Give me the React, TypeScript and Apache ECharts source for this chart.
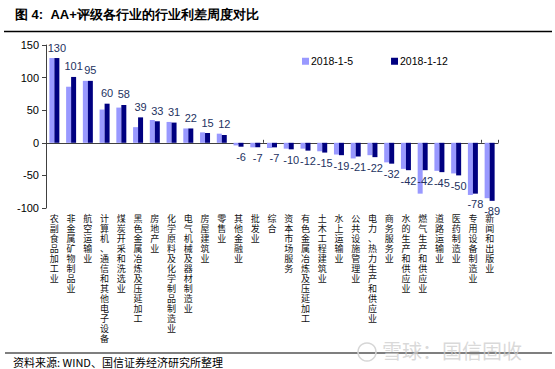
import React, { useEffect, useRef } from "react";
import * as echarts from "echarts";

const categories = [
  "农副食品加工业",
  "非金属矿物制品业",
  "航空运输业",
  "计算机、通信和其他电子设备",
  "煤炭开采和洗选业",
  "黑色金属冶炼及压延加工",
  "房地产业",
  "化学原料及化学制品制造业",
  "电气机械及器材制造业",
  "房屋建筑业",
  "零售业",
  "其他金融业",
  "批发业",
  "综合",
  "资本市场服务",
  "有色金属冶炼及压延加工",
  "土木工程建筑业",
  "水上运输业",
  "公共设施管理业",
  "电力、热力生产和供应业",
  "商务服务业",
  "水的生产和供应业",
  "燃气生产和供应业",
  "道路运输业",
  "医药制造业",
  "专用设备制造业",
  "新闻和出版业",
];

const seriesJan5 = [130, 86, 95, 51, 54, 24, 35, 32, 22, 16, 14, -4, -7, -8, -9, -9, -13, -18, -24, -19, -30, -40, -78, -43, -47, -80, -85];
const seriesJan12 = [130, 101, 95, 60, 58, 39, 33, 31, 22, 15, 12, -6, -7, -7, -10, -12, -15, -19, -21, -22, -32, -42, -42, -45, -50, -78, -89];

const legendNames = ["2018-1-5", "2018-1-12"];
const yTicks = { min: -100, max: 150, interval: 50 };

const titleText = "图 4:  AA+评级各行业的行业利差周度对比";
const sourceText = "资料来源: WIND、国信证券经济研究所整理";
const watermarkText = "雪球：国信固收";

const LIGHT = "#9999ff";
const DARK = "#000080";
const AXIS = "#404040";
const FONT = "'Liberation Sans', Arial, 'Noto Sans CJK SC', sans-serif";
const CJK = "'Noto Sans CJK SC', sans-serif";

export default function App() {
  const ref = useRef<HTMLDivElement>(null);
  useEffect(() => {
    if (!ref.current) return;
    const chart = echarts.init(ref.current, undefined, { renderer: "svg" });
    chart.setOption({
      animation: false,
      backgroundColor: "#ffffff",
      textStyle: { fontFamily: FONT },
      grid: { left: 46, right: 57, top: 45, bottom: 161, containLabel: false },
      legend: {
        data: legendNames,
        left: 297,
        top: 51,
        itemWidth: 7,
        itemHeight: 7,
        itemGap: 38,
        icon: "rect",
        textStyle: { fontSize: 10.5, color: "#000", fontFamily: FONT, padding: [0, 0, 0, -3] },
      },
      xAxis: [
        {
          type: "category",
          data: categories,
          position: "bottom",
          axisLine: { show: false, onZero: false },
          axisTick: { show: false },
          axisLabel: {
            interval: 0,
            margin: 6,
            fontSize: 9,
            lineHeight: 10,
            color: "#111",
            fontFamily: FONT,
            formatter: (v: string) => v.split("").join("\n"),
          },
        },
        {
          type: "category",
          data: categories,
          position: "bottom",
          axisLine: { show: true, onZero: true, lineStyle: { color: AXIS, width: 1 } },
          axisTick: { show: true, inside: true, length: 3, lineStyle: { color: AXIS } },
          axisLabel: { show: false },
        },
      ],
      yAxis: {
        type: "value",
        min: yTicks.min,
        max: yTicks.max,
        interval: yTicks.interval,
        axisLine: { show: true, lineStyle: { color: AXIS, width: 1 } },
        axisTick: { show: true, length: 4, lineStyle: { color: AXIS } },
        axisLabel: { fontSize: 11, color: "#000", margin: 7, fontFamily: FONT },
        splitLine: { show: false },
      },
      series: [
        {
          name: legendNames[0],
          type: "bar",
          xAxisIndex: 0,
          data: seriesJan5,
          barWidth: 5,
          barGap: "0%",
          itemStyle: { color: LIGHT },
        },
        {
          name: legendNames[1],
          type: "bar",
          xAxisIndex: 0,
          data: seriesJan12.map((v) => ({
            value: v,
            label: { position: v >= 0 ? "top" : "bottom" },
          })),
          barWidth: 5,
          barGap: "0%",
          itemStyle: { color: DARK },
          label: {
            show: true,
            distance: 5,
            fontSize: 11,
            color: "#24325f",
            fontFamily: FONT,
          },
        },
      ],
      graphic: [
        {
          type: "text",
          left: 15,
          top: 8,
          style: { text: titleText, fontSize: 13, fontWeight: "bold", fill: "#000", font: `bold 13px ${CJK}` },
        },
        {
          type: "line",
          shape: { x1: 4, y1: 31.5, x2: 552, y2: 31.5 },
          style: { stroke: "#000", lineWidth: 1.5 },
        },
        {
          type: "line",
          shape: { x1: 5, y1: 353, x2: 552, y2: 353 },
          style: { stroke: "#000", lineWidth: 1.2 },
        },
        {
          type: "text",
          left: 13,
          top: 356,
          style: { text: sourceText, font: `11px ${CJK}`, fill: "#000" },
        },
        {
          type: "circle",
          shape: { cx: 367, cy: 352, r: 9 },
          style: { fill: "none", stroke: "#d6d6d6", lineWidth: 1.5 },
        },
        {
          type: "text",
          left: 382,
          top: 340,
          style: { text: watermarkText, font: `20px ${CJK}`, fill: "rgba(205,205,205,0.75)" },
        },
      ],
    });
    return () => chart.dispose();
  }, []);
  return (
    <div
      ref={ref}
      style={{ position: "fixed", left: 0, top: 0, width: 555, height: 369 }}
    />
  );
}
